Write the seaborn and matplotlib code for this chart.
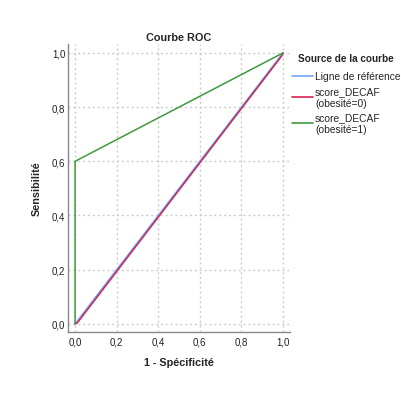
import numpy as np
import pandas as pd
import matplotlib
matplotlib.use("Agg")
import matplotlib.pyplot as plt
import seaborn as sns

sns.set_style("white")
plt.rcParams["font.family"] = ["Liberation Sans", "DejaVu Sans"]

# ROC curve data
ref_fpr = [0.0, 1.0]
ref_tpr = [0.0, 1.0]
obs0_fpr = [0.0, 0.011, 0.994, 1.0]
obs0_tpr = [0.0, 0.004, 0.989, 1.0]
obs1_fpr = [0.0, 0.0, 1.0]
obs1_tpr = [0.0, 0.6, 1.0]
ticks = [0.0, 0.2, 0.4, 0.6, 0.8, 1.0]
tick_labels = ["0,0", "0,2", "0,4", "0,6", "0,8", "1,0"]

df = pd.concat([
    pd.DataFrame({"fpr": ref_fpr, "tpr": ref_tpr, "src": "Ligne de référence"}),
    pd.DataFrame({"fpr": obs0_fpr, "tpr": obs0_tpr, "src": "score_DECAF\n(obesité=0)"}),
    pd.DataFrame({"fpr": obs1_fpr, "tpr": obs1_tpr, "src": "score_DECAF\n(obesité=1)"}),
], ignore_index=True)

palette = {
    "Ligne de référence": "#6fa8f0",
    "score_DECAF\n(obesité=0)": "#d6204f",
    "score_DECAF\n(obesité=1)": "#3f9a3a",
}

W, H = 402, 410
fig = plt.figure(figsize=(W / 100, H / 100), dpi=100)
ax = fig.add_axes([68 / W, 1 - 333 / H, (290 - 68) / W, (333 - 45) / H])

sns.lineplot(data=df, x="fpr", y="tpr", hue="src", palette=palette, sort=False,
             estimator=None, units="src", lw=1.1, ax=ax, legend=False)

ax.set_xlim(-0.034, 1.034)
ax.set_ylim(-0.03, 1.033)
ax.set_xticks(ticks)
ax.set_xticklabels(tick_labels)
ax.set_yticks(ticks)
ax.set_yticklabels(tick_labels)
ax.tick_params(labelsize=7, length=0, pad=3, colors="#222222")
ax.tick_params(axis="y", pad=2)
ax.grid(True, color="#cccccc", linestyle=(0, (1.5, 2)), lw=1.0)
for s in ["top", "right"]:
    ax.spines[s].set_visible(False)
for s in ["left", "bottom"]:
    ax.spines[s].set_color("#888888")
    ax.spines[s].set_linewidth(1.0)

ax.set_title("Courbe ROC", fontsize=7.8, fontweight="bold", pad=3)
ax.set_xlabel("1 - Spécificité", fontsize=7.8, fontweight="bold", labelpad=8)
ax.set_ylabel("Sensibilité", fontsize=7.8, fontweight="bold", labelpad=7)

handles = [plt.Line2D([], [], color=c, lw=1.2) for c in palette.values()]
leg = fig.legend(handles, list(palette.keys()), title="Source de la courbe",
                 loc="upper left", bbox_to_anchor=(292 / W, 1 - 54 / H),
                 frameon=False, fontsize=7.4, title_fontproperties={"weight": "bold", "size": 7.2},
                 handlelength=2.0, handletextpad=0.25, labelspacing=0.45, borderaxespad=0,
                 borderpad=0)
leg._legend_box.align = "center"
leg._legend_box.sep = 6

fig.savefig("out.png", dpi=100)
